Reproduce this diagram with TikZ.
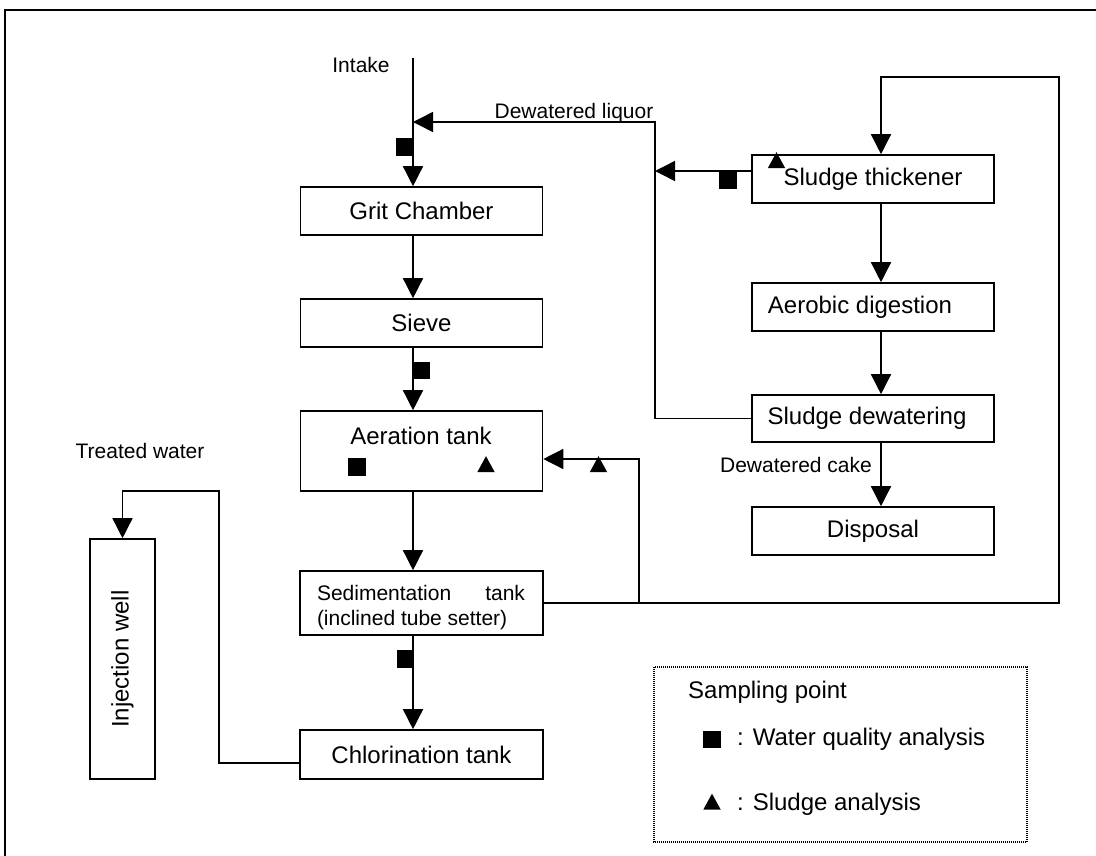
\documentclass[tikz,border=0pt]{standalone}
\usepackage{fontspec}
\setmainfont{Liberation Sans}
\usetikzlibrary{arrows.meta,shapes.geometric}
\begin{document}
\begin{tikzpicture}[x=1pt,y=-1pt,
  box/.style={draw, line width=1.6pt, minimum width=242pt, minimum height=48pt, inner sep=0pt, font=\fontsize{24}{28}\selectfont},
  txt/.style={inner sep=0pt, font=\fontsize{24}{28}\selectfont},
  lab/.style={inner sep=0pt, font=\fontsize{21}{25}\selectfont},
  conn/.style={line width=1.5pt},
  arr/.style={conn, -{Triangle[length=20pt,width=20pt]}},
  sqm/.style={fill=black, rectangle, minimum size=17.5pt, inner sep=0pt},
  trim/.style={fill=black, isosceles triangle, isosceles triangle stretches, shape border rotate=90, minimum width=17.5pt, minimum height=16pt, inner sep=0pt}
]
\useasboundingbox (0,0) rectangle (1096,855);
% outer frame
\draw[line width=2pt] (5,870) -- (5,10) -- (1110,10);

% main column
\node[box] (grit) at (421.5,211) {Grit Chamber};
\node[box] (sieve) at (421.5,323) {Sieve};
\node[box, minimum height=80pt] (aer) at (421.5,451) {};
\node[txt] (aertxt) at (421,436) {Aeration tank};
\node[box, minimum width=243pt, minimum height=64pt] (sed) at (421.5,603) {};
\node[lab, align=left] (sedtxt) at (421,607.5) {\hbox to 208pt{Sedimentation\hfill tank}\\(inclined tube setter)};
\node[box, minimum width=243pt, minimum height=49pt] (chlor) at (421.5,754.5) {Chlorination tank};
\node[box, minimum width=65pt, minimum height=240pt] (inj) at (122.5,659) {};
\node[txt, rotate=90] (injtxt) at (inj.center) {Injection well};

% sludge column
\node[box] (thick) at (873,179) {Sludge thickener};
\node[box] (aero) at (873,307) {};
\node[txt] (aerotxt) at (860,307) {Aerobic digestion};
\node[box, minimum height=47pt] (dewat) at (873,418.5) {};
\node[txt] (dewattxt) at (867,418.5) {Sludge dewatering};
\node[box] (disp) at (873,531) {Disposal};

% labels
\node[lab] (intakelab) at (361,65) {Intake};
\node[lab] (liqlab) at (574,113) {Dewatered liquor};
\node[lab] (cakelab) at (796,465) {Dewatered cake};
\node[lab] (twlab) at (140,451) {Treated water};

% coordinates
\coordinate (intake) at (413,58);
\coordinate (lq) at (655,122);
\coordinate (rt) at (1059,77);
\coordinate (jn) at (639,603);
\coordinate (tw) at (219,491);

% connectors main column
\draw[arr] (intake) -- (intake |- grit.north);
\draw[arr] ([xshift=-8.5pt]grit.south) -- ([xshift=-8.5pt]sieve.north);
\draw[arr] ([xshift=-8.5pt]sieve.south) -- ([xshift=-8.5pt]aer.north);
\draw[arr] ([xshift=-8.5pt]aer.south) -- ([xshift=-8.5pt]sed.north);
\draw[arr] ([xshift=-8.5pt]sed.south) -- ([xshift=-8.5pt]chlor.north);
\draw[arr] ([yshift=-8.5pt]chlor.west) -| (tw) -| (inj.north);

% sludge connectors
\draw[arr] ([xshift=8pt]thick.south) -- ([xshift=8pt]aero.north);
\draw[arr] ([xshift=8pt]aero.south) -- ([xshift=8pt]dewat.north);
\draw[arr] ([xshift=8pt]dewat.south) -- ([xshift=8pt]disp.north);
\draw[arr] (dewat.west) -| (lq) -- (lq -| intake);
\draw[arr] ([yshift=8pt]thick.west) -- ([yshift=8pt]thick.west -| lq);
\draw[arr] (sed.east) -| (rt) -| ([xshift=8pt]thick.north);
\draw[arr] (jn) |- ([yshift=-8pt]aer.east);

% sampling markers
\node[sqm] (m1) at (404.5,147) {};
\node[sqm] (m2) at (728,180) {};
\node[trim] (m3) at (776.5,163) {};
\node[sqm] (m4) at (421.5,370.5) {};
\node[sqm] (m5) at (357,467) {};
\node[trim] (m6) at (486,467) {};
\node[trim] (m7) at (598.5,467) {};
\node[sqm] (m8) at (405.5,659) {};

% legend
\draw[line width=1.5pt, dash pattern=on 1pt off 1pt] (654,667) rectangle (1027,842);
\node[txt, anchor=west] (lg1) at (688,692) {Sampling point};
\node[sqm] (lgs) at (712,739.5) {};
\node[txt, anchor=west] (lg2) at (737,739.5) {: Water quality analysis};
\node[trim] (lgt) at (712,804.5) {};
\node[txt, anchor=west] (lg3) at (737,804.5) {: Sludge analysis};
\end{tikzpicture}
\end{document}
